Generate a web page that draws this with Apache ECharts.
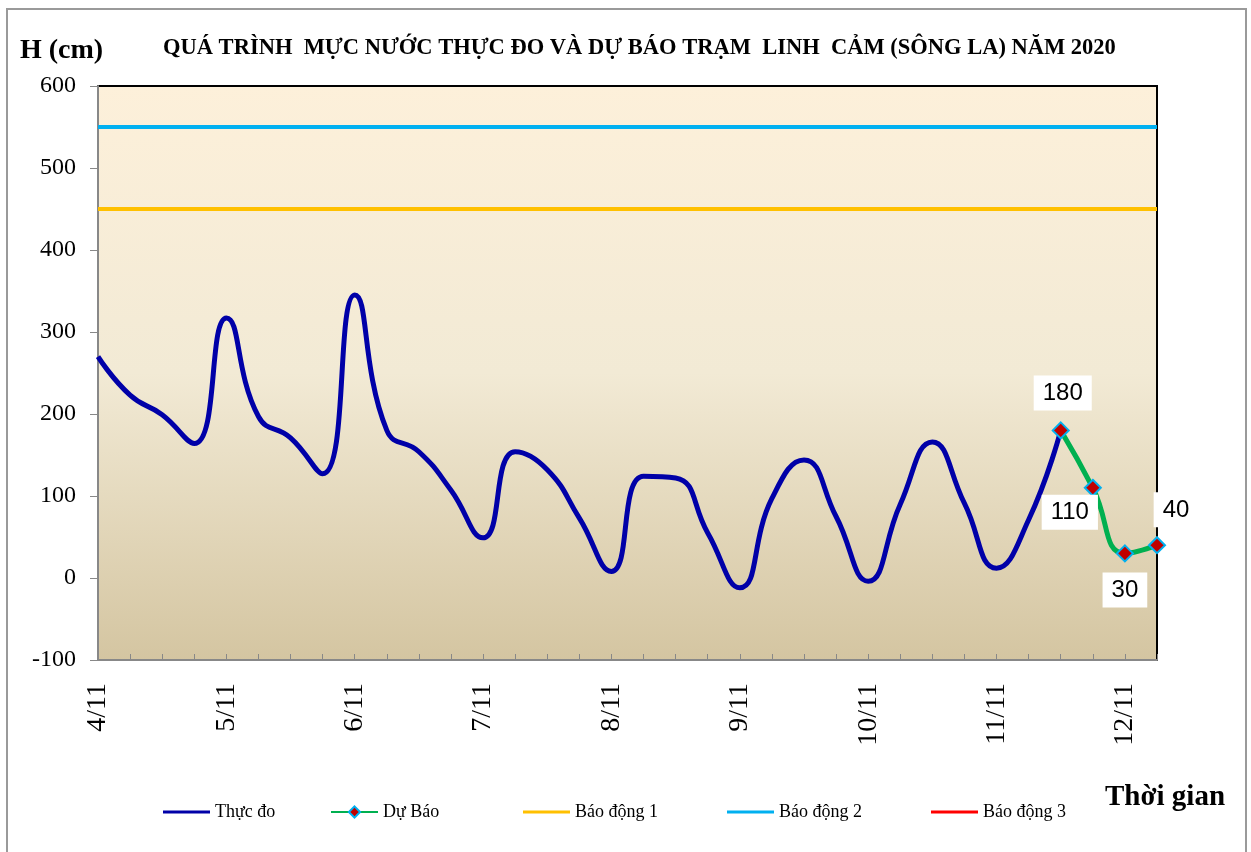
<!DOCTYPE html>
<html>
<head>
<meta charset="utf-8">
<script src="https://cdn.jsdelivr.net/npm/echarts@6/dist/echarts.min.js"></script>
<style>
  html, body { margin: 0; padding: 0; background: #fff; }
  #chart { width: 1251px; height: 852px; }
</style>
</head>
<body>
<div id="chart"></div>
<script>
// nhãn ngày trên trục hoành (mỗi ngày 4 lần đo: 0h, 6h, 12h, 18h)
const dayLabels = ['4/11', '5/11', '6/11', '7/11', '8/11', '9/11', '10/11', '11/11', '12/11'];
const hourLabels = ['0h', '6h', '12h', '18h'];
// mực nước thực đo (cm)
const thucDo = [270, 223, 199, 164, 317, 197, 171, 127, 345, 180, 154, 107, 49, 154, 132, 73, 8, 124, 122, 55, -12, 97, 144, 75, -4, 90, 166, 91, 12, 71, 180];
// mực nước dự báo (cm)
const duBao = [180, 110, 30, 40];
// các mức báo động
const baoDong1 = 450;
const baoDong2 = 550;

// danh sách thời điểm
const categories = [];
dayLabels.forEach(d => {
  hourLabels.forEach(h => categories.push(d + ' ' + h));
});
categories.length = 34;

const forecastStart = thucDo.length - 1;
const serif = '"Liberation Serif", "Times New Roman", serif';

const forecastData = categories.map((c, i) => {
  if (i < forecastStart) return null;
  return duBao[i - forecastStart];
});

// vị trí nhãn của từng điểm dự báo
const labelPos = [
  { position: 'top', distance: 11, offset: [2, 0] },
  { position: 'bottom', distance: -2, offset: [-23, 0] },
  { position: 'bottom', distance: 10, offset: [0, 0] },
  { position: 'top', distance: 9, offset: [19, 0] }
];

const forecastSeriesData = forecastData.map((v, i) => {
  if (v === null) return null;
  const p = labelPos[i - forecastStart];
  return {
    value: v,
    label: {
      show: true,
      position: p.position,
      distance: p.distance,
      offset: p.offset
    }
  };
});

const chart = echarts.init(document.getElementById('chart'));

function legendItem(name, left, plain) {
  return {
    data: [plain ? { name: name, icon: 'rect' } : name],
    left: left,
    top: 798,
    itemWidth: 47,
    itemHeight: plain ? 3 : 14,
    itemGap: 10,
    textStyle: { fontFamily: serif, fontSize: 18, color: '#000' }
  };
}

const option = {
  backgroundColor: '#fff',
  animation: false,
  graphic: [
    {
      type: 'rect',
      shape: { x: 7, y: 9, width: 1239, height: 870 },
      style: { fill: null, stroke: '#9a9a9a', lineWidth: 2 }
    },
    {
      type: 'text',
      left: 20,
      top: 37,
      style: { text: 'H (cm)', font: 'bold 28px ' + serif, fill: '#000' }
    },
    {
      type: 'text',
      left: 163,
      top: 37,
      style: {
        text: 'QUÁ TRÌNH  MỰC NƯỚC THỰC ĐO VÀ DỰ BÁO TRẠM  LINH  CẢM (SÔNG LA) NĂM 2020',
        font: 'bold 22.5px ' + serif,
        fill: '#000'
      }
    },
    {
      type: 'text',
      left: 1105,
      top: 783,
      style: { text: 'Thời gian', font: 'bold 29px ' + serif, fill: '#000' }
    }
  ],
  legend: [
    legendItem('Thực đo', 158, true),
    legendItem('Dự Báo', 325, false),
    legendItem('Báo động 1', 518, true),
    legendItem('Báo động 2', 722, true),
    legendItem('Báo động 3', 926, true)
  ],
  grid: {
    left: 98,
    top: 86,
    right: 94,
    bottom: 192,
    show: true,
    borderColor: '#000',
    borderWidth: 2,
    backgroundColor: new echarts.graphic.LinearGradient(0, 0, 0, 1, [
      { offset: 0, color: '#FDF0DA' },
      { offset: 0.5, color: '#F2EAD5' },
      { offset: 1, color: '#D4C5A1' }
    ])
  },
  xAxis: {
    type: 'category',
    boundaryGap: false,
    data: categories,
    axisLine: { onZero: false, lineStyle: { color: '#888', width: 2 } },
    axisTick: { inside: true, length: 6, interval: 0, lineStyle: { color: '#888' } },
    axisLabel: {
      interval: 3,
      rotate: 90,
      margin: 23,
      fontFamily: serif,
      fontSize: 28,
      color: '#000',
      formatter: v => v.split(' ')[0]
    },
    splitLine: { show: false }
  },
  yAxis: {
    type: 'value',
    min: -100,
    max: 600,
    interval: 100,
    axisLine: { show: true, lineStyle: { color: '#888', width: 2 } },
    axisTick: { show: true, length: 8, lineStyle: { color: '#888' } },
    axisLabel: { margin: 22, fontFamily: serif, fontSize: 24, color: '#000' },
    splitLine: { show: false }
  },
  series: [
    {
      name: 'Báo động 1',
      type: 'line',
      data: categories.map(() => baoDong1),
      symbol: 'none',
      color: '#FFC000',
      lineStyle: { width: 4, color: '#FFC000' },
      z: 2
    },
    {
      name: 'Báo động 2',
      type: 'line',
      data: categories.map(() => baoDong2),
      symbol: 'none',
      color: '#00B0F0',
      lineStyle: { width: 4, color: '#00B0F0' },
      z: 2
    },
    {
      name: 'Báo động 3',
      type: 'line',
      data: [],
      symbol: 'none',
      color: '#FF0000',
      lineStyle: { width: 4, color: '#FF0000' }
    },
    {
      name: 'Thực đo',
      type: 'line',
      data: thucDo,
      smooth: 0.5,
      symbol: 'none',
      color: '#0000A8',
      lineStyle: { width: 5, color: '#0000A8' },
      z: 3
    },
    {
      name: 'Dự Báo',
      type: 'line',
      data: forecastSeriesData,
      smooth: 0.5,
      symbol: 'diamond',
      symbolSize: 16,
      showAllSymbol: true,
      color: '#00B050',
      lineStyle: { width: 5, color: '#00B050' },
      itemStyle: { color: '#C00000', borderColor: '#00B0F0', borderWidth: 2 },
      label: {
        fontFamily: 'Arial, "Liberation Sans", sans-serif',
        fontSize: 24,
        color: '#000',
        backgroundColor: '#fff',
        padding: [6, 9, 5, 9]
      },
      z: 4
    }
  ]
};

chart.setOption(option);
</script>
</body>
</html>
